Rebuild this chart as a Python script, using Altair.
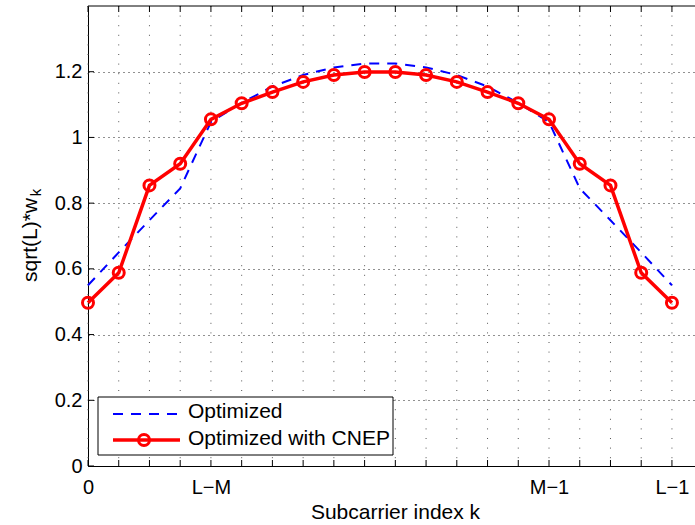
import altair as alt
import pandas as pd

# ---- data ----
k_index = list(range(20))
optimized = [0.550, 0.650, 0.748, 0.845, 1.047, 1.105, 1.155, 1.190, 1.213, 1.225,
             1.225, 1.213, 1.190, 1.155, 1.105, 1.047, 0.845, 0.748, 0.650, 0.550]
optimized_cnep = [0.497, 0.588, 0.854, 0.920, 1.055, 1.104, 1.138, 1.169, 1.190, 1.199,
                  1.199, 1.190, 1.169, 1.138, 1.104, 1.055, 0.920, 0.854, 0.588, 0.497]
x_tick_values = [0, 4, 15, 19]
x_tick_labels = ["0", "L\u2212M", "M\u22121", "L\u22121"]
y_ticks = [0, 0.2, 0.4, 0.6, 0.8, 1.0, 1.2]
series_names = ["Optimized", "Optimized with CNEP"]
x_title = "Subcarrier index k"
y_title_main = "sqrt(L)*w"
y_title_sub = "k"

FONT = "Liberation Sans"
W, H = 607, 460

df = pd.DataFrame({"k": k_index, "opt": optimized, "cnep": optimized_cnep})
xt_df = pd.DataFrame({"k": k_index})
yt_df = pd.DataFrame({"v": y_ticks})

label_expr = "".join(
    f"datum.value == {v} ? '{t}' : " for v, t in zip(x_tick_values, x_tick_labels)
) + "''"

xscale = alt.Scale(domain=[0, 19.75], nice=False, zero=False)
yscale = alt.Scale(domain=[0, 1.4], nice=False, zero=False)

x_axis = alt.Axis(
    values=x_tick_values, grid=False,
    ticks=False, tickSize=0, labelExpr=label_expr, labelFont=FONT, labelFontSize=20,
    labelColor="black", labelBaseline="alphabetic", labelPadding=27, labelOverlap=False,
    labelFlush=False, domainColor="black", domainWidth=1,
    title=x_title, titleFont=FONT, titleFontSize=21, titleFontWeight="normal",
    titleColor="black", titleBaseline="alphabetic", titleX=307, titleY=52,
    titleAlign="center",
)
y_axis = alt.Axis(
    values=y_ticks, grid=True, gridDash=[1, 4], gridColor="#222222", gridWidth=1,
    ticks=False, tickSize=0, format="~g", labelFont=FONT, labelFontSize=20,
    labelColor="black", labelPadding=6, labelOverlap=False, labelFlush=False,
    domainColor="black", domainWidth=1, title=None,
)

# vertical dotted grid at every index
vgrid = alt.Chart(xt_df).mark_rule(color="#555555", strokeWidth=1, strokeDash=[1, 8.6]).encode(
    x=alt.X("k:Q", scale=xscale, axis=x_axis), y=alt.value(0), y2=alt.value(H))

base = alt.Chart(df)

blue = base.mark_line(color="#0000FF", strokeWidth=2, strokeDash=[10, 8]).encode(
    x=alt.X("k:Q", scale=xscale, axis=x_axis),
    y=alt.Y("opt:Q", scale=yscale, axis=y_axis),
)
red = base.mark_line(color="#FF0000", strokeWidth=3.5).encode(
    x=alt.X("k:Q", scale=xscale, axis=x_axis), y=alt.Y("cnep:Q", scale=yscale, axis=y_axis)
)
red_pts = base.mark_point(shape="circle", filled=False, color="#FF0000", size=121,
                          strokeWidth=3, opacity=1).encode(
    x=alt.X("k:Q", scale=xscale, axis=x_axis), y=alt.Y("cnep:Q", scale=yscale, axis=y_axis)
)

# inward ticks (bottom, top) and left ticks, plus top border
bt = alt.Chart(xt_df).mark_rule(color="black", strokeWidth=1).encode(
    x=alt.X("k:Q", scale=xscale, axis=x_axis), y=alt.value(H), y2=alt.value(H - 6))
tt = alt.Chart(xt_df).mark_rule(color="black", strokeWidth=1).encode(
    x=alt.X("k:Q", scale=xscale, axis=x_axis), y=alt.value(0), y2=alt.value(6))
lt = alt.Chart(yt_df).mark_rule(color="black", strokeWidth=1).encode(
    y=alt.Y("v:Q", scale=yscale, axis=y_axis), x=alt.value(0), x2=alt.value(6))
one = pd.DataFrame({"t": [""]})
top_border = alt.Chart(one).mark_rule(color="black", strokeWidth=1).encode(
    x=alt.value(0), x2=alt.value(W), y=alt.value(0))

# y title with subscript
yt_main = alt.Chart(pd.DataFrame({"t": [y_title_main]})).mark_text(
    angle=270, align="center", baseline="alphabetic", font=FONT, fontSize=21, color="black"
).encode(x=alt.value(-51), y=alt.value(234), text="t:N")
yt_sub = alt.Chart(pd.DataFrame({"t": [y_title_sub]})).mark_text(
    angle=270, align="center", baseline="alphabetic", font=FONT, fontSize=15, color="black"
).encode(x=alt.value(-47), y=alt.value(186.5), text="t:N")

# legend
leg_box = alt.Chart(one).mark_rect(fill="white", stroke="black", strokeWidth=1).encode(
    x=alt.value(10), x2=alt.value(305), y=alt.value(391), y2=alt.value(449))
leg_l1 = alt.Chart(one).mark_rule(color="#0000FF", strokeWidth=2, strokeDash=[10, 8]).encode(
    x=alt.value(25), x2=alt.value(89), y=alt.value(408))
leg_l2 = alt.Chart(one).mark_rule(color="#FF0000", strokeWidth=3.5).encode(
    x=alt.value(25), x2=alt.value(92), y=alt.value(434))
leg_p2 = alt.Chart(one).mark_point(shape="circle", filled=False, color="#FF0000", size=121,
                                   strokeWidth=3, opacity=1).encode(
    x=alt.value(56), y=alt.value(434))
leg_t1 = alt.Chart(pd.DataFrame({"t": [series_names[0]]})).mark_text(
    align="left", baseline="alphabetic", font=FONT, fontSize=21, color="black"
).encode(x=alt.value(100), y=alt.value(412), text="t:N")
leg_t2 = alt.Chart(pd.DataFrame({"t": [series_names[1]]})).mark_text(
    align="left", baseline="alphabetic", font=FONT, fontSize=21, color="black"
).encode(x=alt.value(100), y=alt.value(439), text="t:N")

chart = alt.layer(
    vgrid, blue, red, red_pts, bt, tt, lt, top_border, yt_main, yt_sub,
    leg_box, leg_l1, leg_l2, leg_p2, leg_t1, leg_t2,
).properties(
    width=W, height=H,
    autosize=alt.AutoSizeParams(type="none"),
    padding={"left": 88, "top": 6, "right": 0, "bottom": 59},
    background="white",
).configure_view(stroke=None)

chart.save("out.html", embed_options={"renderer": "svg", "actions": False})
